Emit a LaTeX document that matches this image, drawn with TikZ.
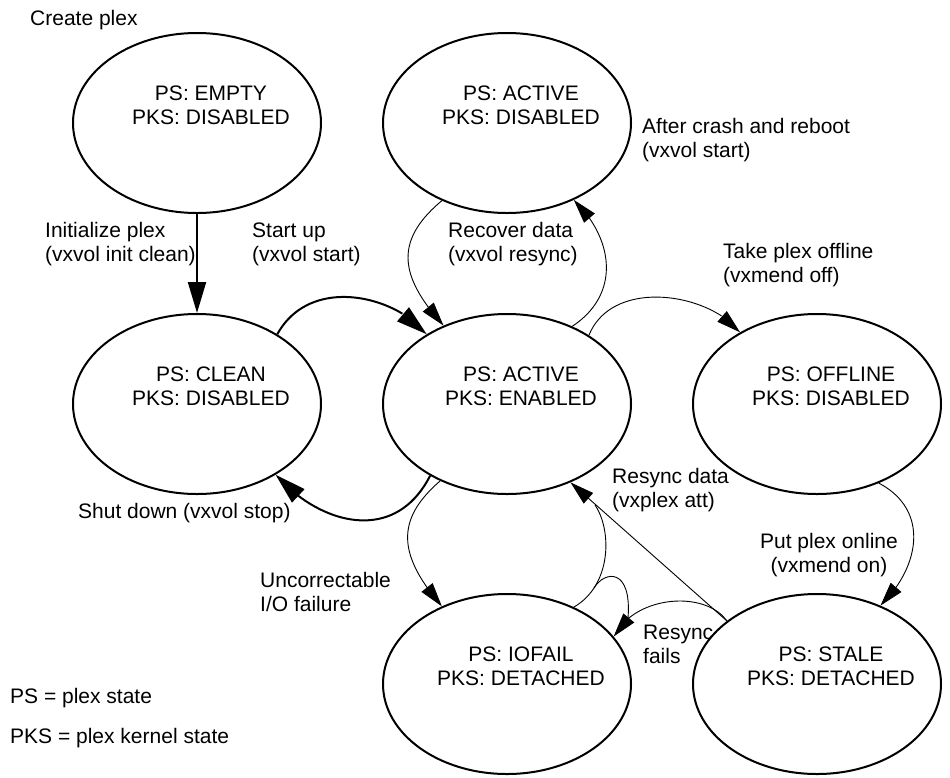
\documentclass[tikz,border=0pt]{standalone}
\usepackage{fontspec}
\setmainfont{Liberation Sans}
\usetikzlibrary{shapes.geometric,arrows.meta,bending}
\begin{document}
\begin{tikzpicture}[x=1pt,y=-1pt,
  every node/.style={font=\fontsize{21}{24}\selectfont},
  state/.style={ellipse,draw,line width=2pt,minimum width=248pt,minimum height=180pt,inner sep=0pt},
  stxt/.style={align=center,inner sep=0pt,xshift=14pt,yshift=18pt},
  lbl/.style={anchor=base west,align=left,inner sep=0pt},
  thickarr/.style={line width=2pt,-{Triangle[length=31pt,width=18pt]}},
  thinarr/.style={line width=0.9pt,-{Triangle[length=24pt,width=14pt]}},
  thinline/.style={line width=0.9pt}]
\useasboundingbox[fill=white] (0,0) rectangle (950,777);

% states
\node[state] (empty)   at (197,123) {};
\node[state] (actdis)  at (507,123) {};
\node[state] (clean)   at (197,404) {};
\node[state] (actena)  at (507,404) {};
\node[state] (offline) at (817,404) {};
\node[state] (iofail)  at (507,684) {};
\node[state] (stale)   at (817,684) {};

\node[stxt] (emptyt)   at (empty)   {PS: EMPTY\\PKS: DISABLED};
\node[stxt] (actdist)  at (actdis)  {PS: ACTIVE\\PKS: DISABLED};
\node[stxt] (cleant)   at (clean)   {PS: CLEAN\\PKS: DISABLED};
\node[stxt] (actenat)  at (actena)  {PS: ACTIVE\\PKS: ENABLED};
\node[stxt] (offlinet) at (offline) {PS: OFFLINE\\PKS: DISABLED};
\node[stxt] (iofailt)  at (iofail)  {PS: IOFAIL\\PKS: DETACHED};
\node[stxt] (stalet)   at (stale)   {PS: STALE\\PKS: DETACHED};

% labels (base of the last line)
\node[lbl] (lcreate)  at (30,25)   {Create plex};
\node[lbl] (linit)    at (45,261)  {Initialize plex\\(vxvol init clean)};
\node[lbl] (lstart)   at (252,261) {Start up\\(vxvol start)};
\node[lbl] (lrecover) at (448,261) {Recover data\\(vxvol resync)};
\node[lbl] (lcrash)   at (642,157) {After crash and reboot\\(vxvol start)};
\node[lbl] (loffline) at (723,282) {Take plex offline\\(vxmend off)};
\node[lbl] (lresync)  at (612,507) {Resync data\\(vxplex att)};
\node[lbl] (lshut)    at (78,518)  {Shut down (vxvol stop)};
\node[lbl] (lunc)     at (260,611) {Uncorrectable\\I/O failure};
\node[anchor=base,align=center,inner sep=0pt] (lonline) at (829,572) {Put plex online\\(vxmend on)};
\node[lbl] (lfails)   at (643,663) {Resync\\fails};
\node[lbl] (lps)      at (10,703)  {PS = plex state};
\node[lbl] (lpks)     at (10,743)  {PKS = plex kernel state};

% connectors
\draw[thickarr] (empty.south) -- (clean.north);
\draw[thickarr] (clean.41) .. controls (310,275) and (395,295) .. (actena.139);
\draw[thickarr] (actena.223) .. controls (395,545) and (320,525) .. (clean.-42);
\draw[thinarr] (actdis.230) .. controls (395,240) and (398,275) .. (actena.129);
\draw[thinarr] (actena.50) .. controls (620,295) and (615,240) .. (actdis.-49);
\draw[thinarr] (actena.40) .. controls (612,278) and (708,292) .. (offline.137);
\draw[thinarr] (offline.-52) .. controls (930,510) and (920,567) .. (stale.51);
\draw[thinarr] (stale.145) -- (actena.-51);
\draw[thinarr] (actena.229) .. controls (395,520) and (398,555) .. (iofail.130);
\coordinate (attbase) at (595,505);
\draw[thinline] (iofail.49) .. controls (612,585) and (612,530) .. (attbase);
\coordinate (loopstart) at (594,588);
\coordinate (failbase) at (628,618);
\draw[thinline] (loopstart) .. controls (605,570) and (632,568) .. (failbase);
\draw[thinarr] (stale.145) .. controls (705,590) and (635,595) .. (iofail.24);
\end{tikzpicture}
\end{document}
